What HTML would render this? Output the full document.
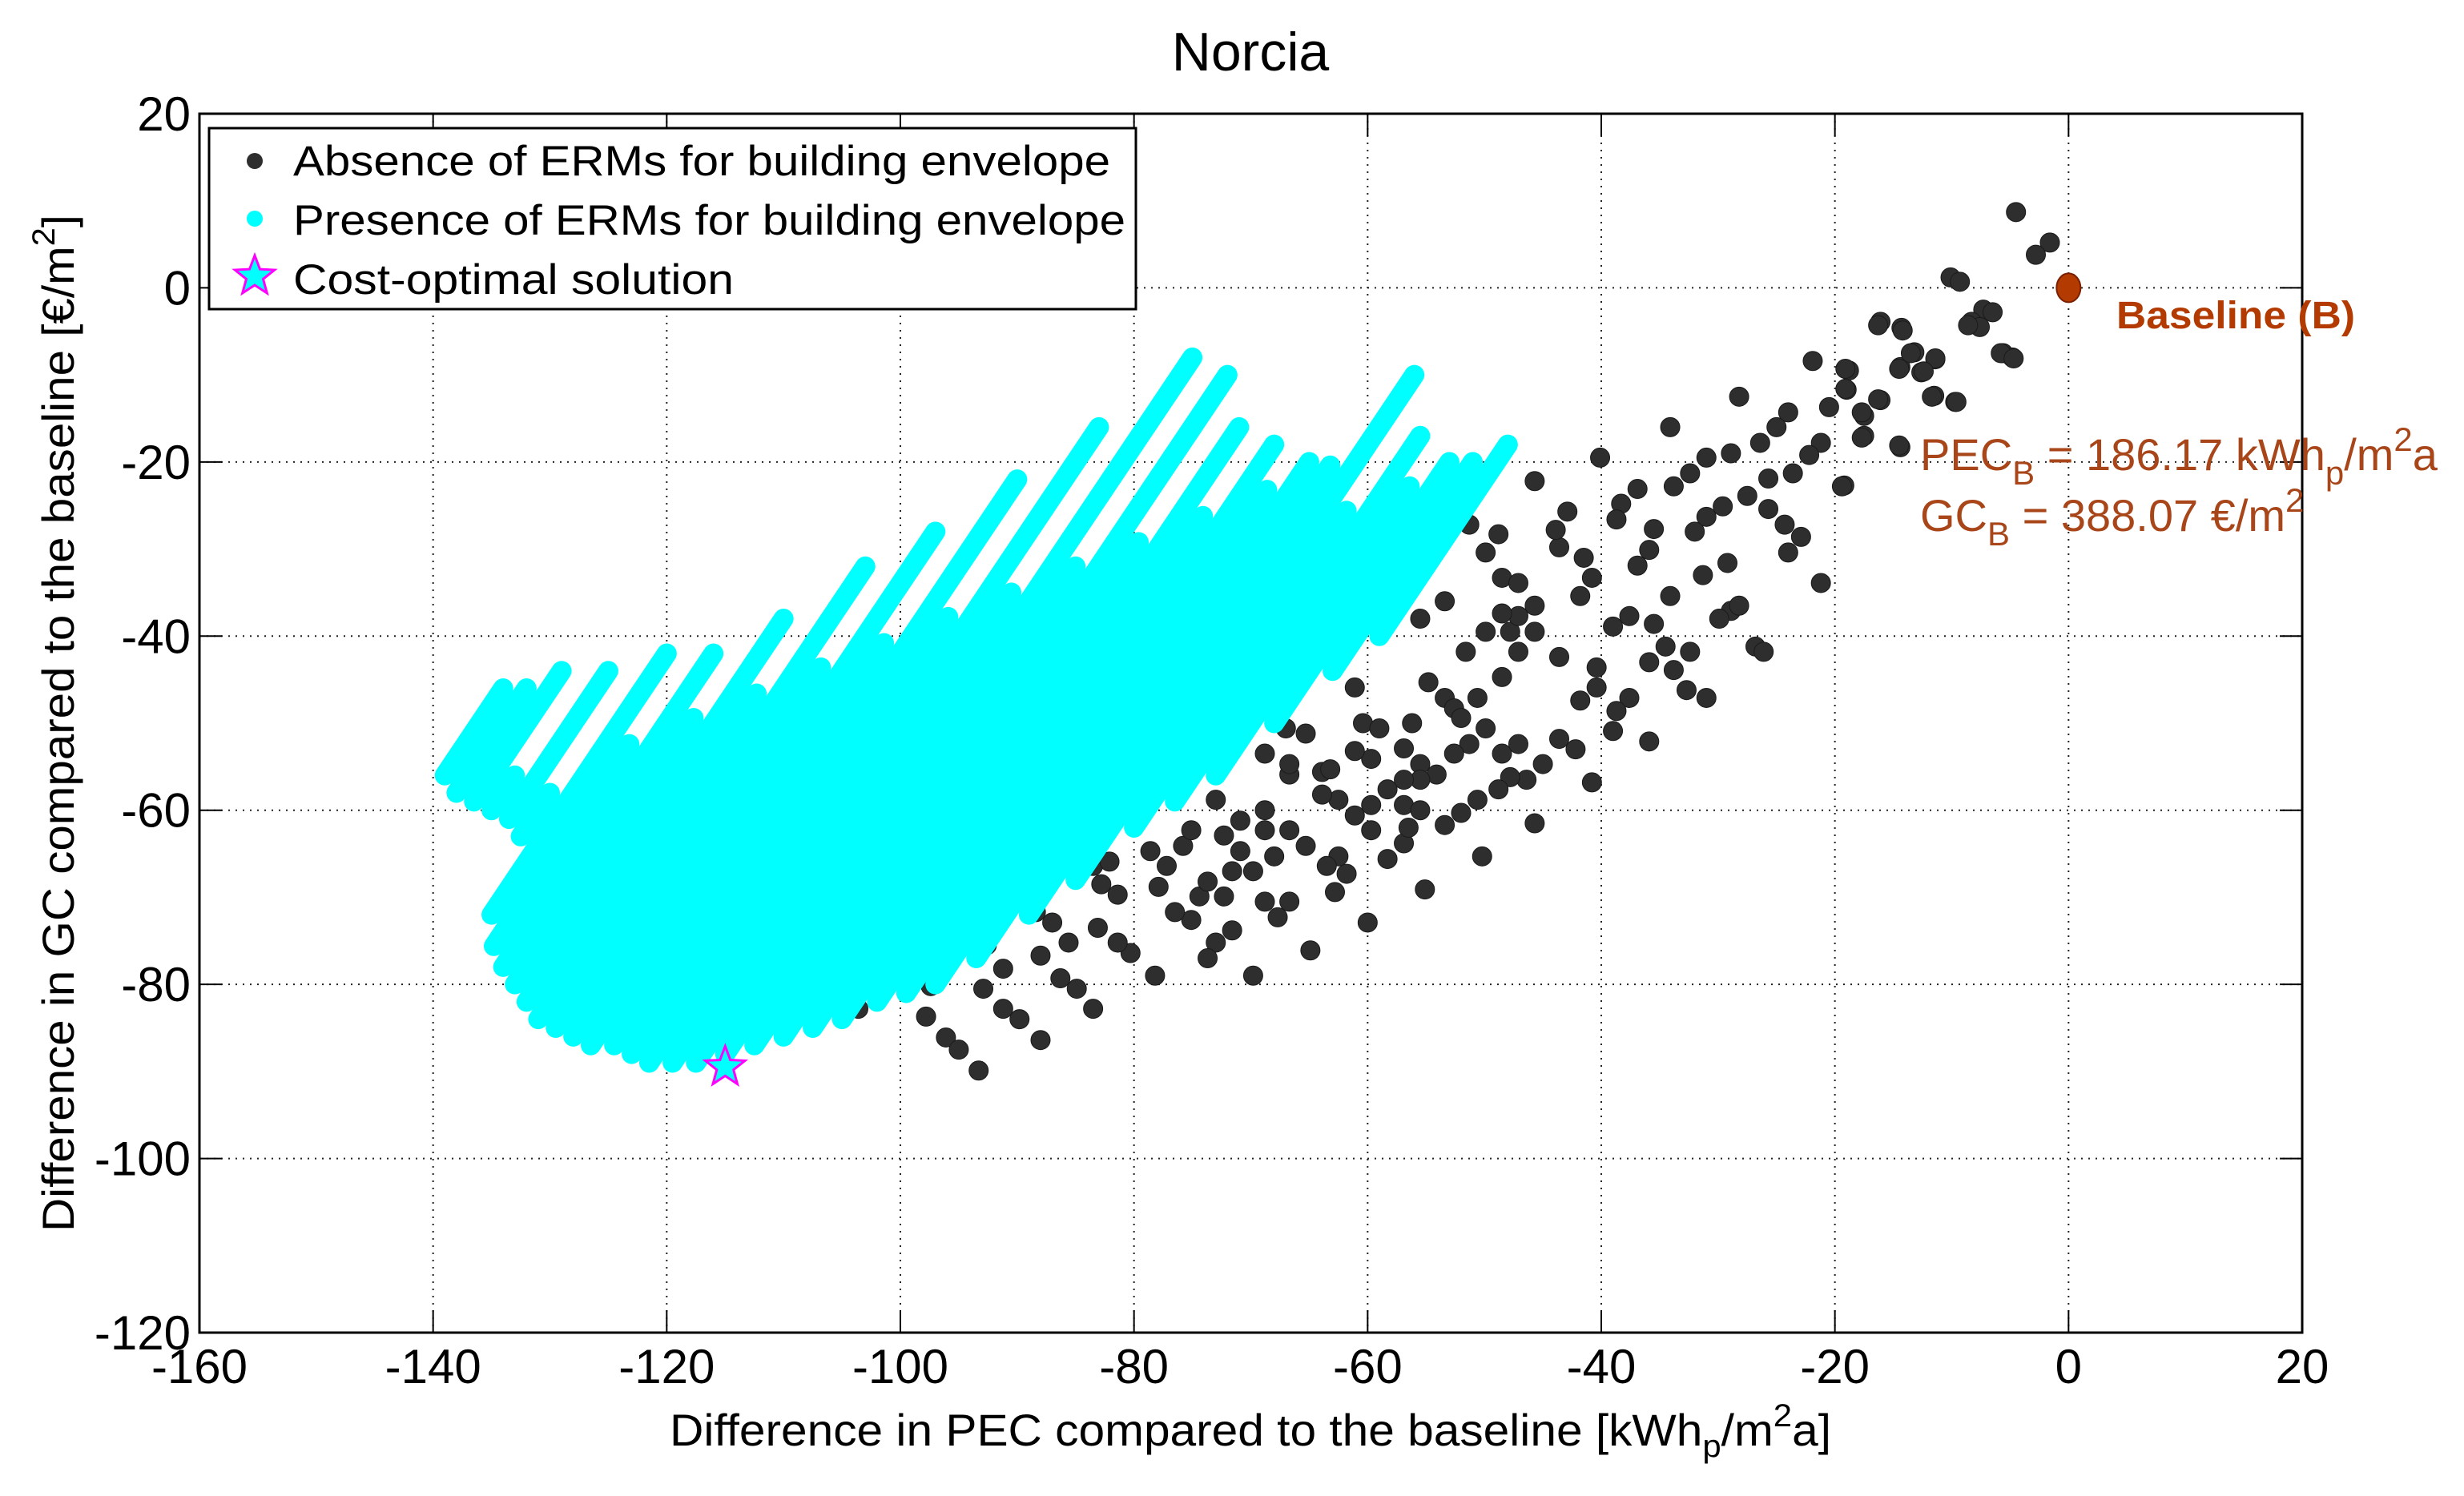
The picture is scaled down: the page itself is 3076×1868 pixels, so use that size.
<!DOCTYPE html>
<html>
<head>
<meta charset="utf-8">
<style>
  html,body{margin:0;padding:0;background:#fff;}
  svg{display:block;font-family:"Liberation Sans",Arial,sans-serif;}
</style>
</head>
<body>
<svg id="chart" width="3076" height="1868" viewBox="0 0 3076 1868" xmlns="http://www.w3.org/2000/svg">
  <rect x="0" y="0" width="3076" height="1868" fill="#fff"/>
  <g id="grid"></g>
  <g id="black-series"></g>
  <g id="cyan-series"></g>
  <g id="axes"></g>
  <text x="1561" y="88" font-size="68" text-anchor="middle">Norcia</text>
  <text x="1561" y="1805" font-size="56" text-anchor="middle" textLength="1450" lengthAdjust="spacingAndGlyphs">Difference in PEC compared to the baseline [kWh<tspan font-size="40" dy="14">p</tspan><tspan dy="-14">/m</tspan><tspan font-size="40" dy="-24">2</tspan><tspan dy="24">a]</tspan></text>
  <text transform="translate(92,903) rotate(-90)" font-size="56" text-anchor="middle" textLength="1270" lengthAdjust="spacingAndGlyphs">Difference in GC compared to the baseline [€/m<tspan font-size="40" dy="-24">2</tspan><tspan dy="24">]</tspan></text>

  <g>
    <text x="2642" y="410" font-size="48" font-weight="bold" fill="#b33a00" textLength="298" lengthAdjust="spacingAndGlyphs">Baseline (B)</text>
    <text x="2397" y="587" font-size="56" fill="#a8461a">PEC<tspan font-size="42" dy="18">B</tspan><tspan dy="-18"> = 186.17 kWh</tspan><tspan font-size="42" dy="18">p</tspan><tspan dy="-18">/m</tspan><tspan font-size="42" dy="-24">2</tspan><tspan dy="24">a</tspan></text>
    <text x="2397" y="663" font-size="56" fill="#a8461a">GC<tspan font-size="42" dy="18">B</tspan><tspan dy="-18"> = 388.07 €/m</tspan><tspan font-size="42" dy="-24">2</tspan></text>
  </g>

  <g>
    <rect x="261" y="160" width="1157" height="226" fill="#fff" stroke="#000" stroke-width="3"/>
    <circle cx="318" cy="201" r="10" fill="#2e2e2e"/>
    <text x="366" y="219" font-size="53" textLength="1020" lengthAdjust="spacingAndGlyphs">Absence of ERMs for building envelope</text>
    <circle cx="318" cy="273" r="10" fill="#00ffff"/>
    <text x="366" y="293" font-size="53" textLength="1039" lengthAdjust="spacingAndGlyphs">Presence of ERMs for building envelope</text>
    <polygon id="legend-star" fill="#00ffff" stroke="#ff00ff" stroke-width="3"/>
    <text x="366" y="367" font-size="53" textLength="550" lengthAdjust="spacingAndGlyphs">Cost-optimal solution</text>
  </g>
</svg>
<script>
// ---- data ----
const xTicks = [-160,-140,-120,-100,-80,-60,-40,-20,0,20];
const yTicks = [-120,-100,-80,-60,-40,-20,0,20];
const blackPEC = [-4.5,-1.6,-2.8,-10.1,-9.3,-7.3,-6.5,-8.3,-7.6,-16.1,-14.3,-13.2,-11.4,-14.4,-12.6,-5.6,-4.8,-18.8,-19.0,-16.1,-17.5,-17.5,-14.4,-11.5,-9.7,-19.2,
-21.9,-19.1,-19.1,-20.5,-17.7,-16.3,-14.5,-17.7,-19.4,-21.2,-22.2,-23.6,-24.0,-25.0,-26.4,-28.9,-31.0,-32.4,-33.8,-36.9,-38.3,-38.7,-35.5,-35.9,-36.9,-40.8,-41.8,-41.5,-43.6,-42.9,-43.9,-45.7,-40.1,-34.1,-28.2,-25.7,-27.5,-25.7,-24.3,-22.9,-24.0,-29.6,-31.0,-32.0,-21.2,-29.2,-31.3,-34.1,-35.5,-37.6,-39.0,-28.9,-29.9,-28.2,-26.8,-26.1,-34.5,-35.9,-32.4,-33.8,-32.7,-31.0,-40.4,-41.8,-40.4,-37.6,-38.7,-39.0,-35.9,-40.8,-43.6,-42.2,-45.0,-46.4,-47.8,-48.8,-50.6,-52.0,-53.4,-45.7,-50.2,-55.1,-58.3,-56.9,-56.5,-59.7,-61.1,-62.5,-63.9,-63.9,-66.7,-68.8,-68.0,-65.3,-62.5,-63.5,-61.8,-60.0,-62.8,-64.9,-66.7,-68.8,-67.7,-69.8,-71.6,-73.0,-73.7,-74.4,-73.7,-75.1,-76.5,-77.2,-75.8,-77.9,-78.2,-80.3,-81.4,-83.1,-82.8,-81.4,-83.5,-82.1,-85.6,-87.0,-88.4,-88.0,-91.2,-92.9,-92.6,-97.4,-97.8,-96.1,-95.0,-93.3,-91.2,-89.8,-88.0,-86.3,-84.9,-83.5,-78.6,-73.0,-70.9,-68.8,-72.3,-70.9,-75.1,-69.8,-71.6,-72.3,-66.7,-61.1,-60.4,-59.0,-56.9,-55.5,-56.2,-54.8,-53.4,-52.6,-52.0,-49.9,-51.3,-52.6,-54.1,-55.5,-59.7,-61.1,-63.2,-65.3,-67.0,-68.8,-66.7,-58.3,-59.7,-56.9,-55.5,-56.9,-48.5,-47.1,-50.6,-48.5,-47.1,-45.7,-43.6,-47.8,-47.1,-45.7,-48.5,-49.9,-51.6,-53.4,-55.5,-48.5,-47.1,-51.3,-49.9,-48.8,-55.8,-56.9,-51.3,
-16.3,-14.2,-8.6,-13.5,-11.4,-14.5,-12.4,-5.8,-4.7,-11.7,-9.6,-103.6,-104.5,-101.5];
const blackGC = [8.7,5.2,3.8,1.2,0.7,-2.5,-2.8,-3.9,-4.5,-3.9,-4.6,-7.4,-8.2,-9.1,-9.7,-7.5,-8.0,-9.5,-11.7,-12.9,-14.7,-17.0,-18.3,-12.4,-13.1,-22.7,
-8.4,-9.3,-11.6,-13.7,-14.3,-12.8,-18.1,-17.2,-22.8,-17.8,-19.2,-21.3,-14.3,-16.0,-17.8,-19.0,-19.5,-21.3,-22.8,-23.1,-24.8,-26.6,-27.7,-30.1,-31.9,-33.3,-35.4,-31.0,-29.8,-25.7,-27.8,-22.2,-19.5,-16.0,-12.5,-21.9,-23.9,-25.4,-27.2,-28.6,-30.4,-25.1,-26.3,-28.0,-33.9,-31.6,-33.0,-35.4,-38.6,-37.7,-38.9,-37.1,-38.0,-36.5,-41.2,-41.8,-41.2,-43.0,-41.8,-43.9,-46.2,-47.1,-43.6,-47.4,-45.9,-47.1,-48.6,-50.9,-52.1,-56.8,-51.8,-53.0,-54.7,-56.5,-56.2,-57.6,-58.8,-60.3,-61.7,-61.5,-65.3,-69.1,-65.6,-63.8,-62.0,-62.3,-60.6,-58.8,-58.2,-55.6,-55.9,-62.3,-65.3,-64.1,-65.3,-66.4,-67.3,-72.9,-69.4,-76.1,-70.5,-70.5,-72.3,-79.0,-73.8,-75.2,-77.0,-69.9,-68.2,-72.6,-71.7,-66.4,-64.1,-68.8,-79.0,-76.4,-75.2,-73.5,-68.5,-69.7,-66.4,-65.9,-75.2,-72.9,-71.7,-76.7,-78.2,-80.5,-75.5,-80.2,-83.7,-86.1,-87.5,-89.9,-82.8,-84.0,-86.4,-79.3,-80.5,-82.8,-64.7,-58.8,-61.2,-60.0,-62.9,-64.7,-62.3,-67.0,-67.0,-69.9,-62.3,-45.9,-50.0,-50.6,-52.9,-54.7,-50.0,-45.3,-47.1,-48.3,-49.4,-50.6,-52.4,-53.5,-55.9,-56.5,-54.1,-53.2,-55.3,-51.2,-50.6,-53.5,-54.7,-57.6,-59.4,-59.4,-60.0,-56.5,-53.5,-52.4,-47.1,-44.7,-41.8,-39.5,-42.4,-39.5,-37.7,-36.5,-37.4,-39.5,-41.8,-36.0,-38.0,-33.3,-33.9,-27.2,-30.4,-28.3,-32.4,-29.0,-24.5,
-4.3,-4.9,-4.3,-7.5,-8.1,-9.3,-9.6,-7.5,-8.1,-12.5,-13.1,-82.8,-80.5,-79.0];
// cyan point clusters (start and end of each dense diagonal run of points)
const cyanStartPEC = [-59,-63,-68,-73,-76.5,-80,-85,-89,-93.5,-97,-99.5,-102,-105,-107.5,-110,-112.5,-115,-117.5,-119.5,-121.5,-123,-124.5,-126.5,-128,-129.5,-131,-132,-133,-134,-134.8,-135,-132.5,-133.5,-135,-136.5,-138,-139];
const cyanStartGC  = [-40,-44,-50,-56,-59,-62,-68,-72,-77,-80,-81,-82,-84,-85,-86,-87,-88,-89,-89,-89,-88,-87,-87,-86,-85,-84,-82,-80,-78,-75.6,-72,-63,-61,-60,-59,-58,-56];
const cyanEndPEC   = [-48,-51,-53,-56.4,-55.5,-61.8,-56,-63.2,-65,-68.6,-68,-74.1,-71,-79.6,-72,-85,-75,-90.5,-83,-95.9,-90,-101.4,-97,-106.8,-103,-112.3,-110,-117.7,-116,-123.2,-120,-130,-125,-133,-129,-132,-134];
const cyanEndGC    = [-18,-20,-20,-22.8,-17,-25.6,-10,-20.4,-20,-23.2,-18,-26.2,-16,-29.2,-10,-32,-8,-35,-16,-37.8,-22,-40.8,-28,-43.6,-32,-46.6,-38,-49.4,-42,-52.4,-42,-58,-44,-56,-44,-46,-46];
const baselinePEC = [0];
const baselineGC = [0];
const optimalPEC = [-115];
const optimalGC = [-89.5];

// ---- scales ----
const L=249, R=2874, T=142, B=1664;
const X0=-160, X1=20, Y0=-120, Y1=20;
function sx(v){ return L + (v - X0) * (R - L) / (X1 - X0); }
function sy(v){ return T + (Y1 - v) * (B - T) / (Y1 - Y0); }
const NS="http://www.w3.org/2000/svg";
function mk(tag, attrs, parent){ const e=document.createElementNS(NS,tag); for(const k in attrs) e.setAttribute(k, attrs[k]); parent.appendChild(e); return e; }

// grid
const grid=document.getElementById('grid');
xTicks.forEach(t=>{
  if(t===X0||t===X1) return;
  const l=mk('line',{x1:sx(t),x2:sx(t),y1:T,y2:B,stroke:'#222','stroke-width':2,'stroke-dasharray':'2,7'},grid);
  
  
});
yTicks.forEach(t=>{
  if(t===Y0||t===Y1) return;
  const l=mk('line',{x1:L,x2:R,y1:sy(t),y2:sy(t),stroke:'#222','stroke-width':2,'stroke-dasharray':'2,7'},grid);
  
  
});

// black points
const bg=document.getElementById('black-series');
for(let i=0;i<blackPEC.length;i++){
  const c=mk('circle',{cx:sx(blackPEC[i]),cy:sy(blackGC[i]),r:12,fill:'#2e2e2e',stroke:'#1a1a1a','stroke-width':1},bg);
  
  
}
// cyan point runs
const cg=document.getElementById('cyan-series');
for(let i=0;i<cyanStartPEC.length;i++){
  const l=mk('line',{x1:sx(cyanStartPEC[i]),y1:sy(cyanStartGC[i]),x2:sx(cyanEndPEC[i]),y2:sy(cyanEndGC[i]),stroke:'#00ffff','stroke-width':25,'stroke-linecap':'round'},cg);
  
  
}
// baseline point
const bp=mk('ellipse',{cx:sx(baselinePEC[0]),cy:sy(baselineGC[0]),rx:15,ry:18,fill:'#b33a00',stroke:'#7a2000','stroke-width':2},document.getElementById('chart'));



// star
function starPts(cx,cy,ro,ri){ let p=[]; for(let k=0;k<10;k++){ const a=-Math.PI/2+k*Math.PI/5; const r=k%2?ri:ro; p.push((cx+r*Math.cos(a)).toFixed(1)+','+(cy+r*Math.sin(a)).toFixed(1)); } return p.join(' '); }
const st=mk('polygon',{points:starPts(sx(optimalPEC[0]),sy(optimalGC[0]),26,11),fill:'#00ffff',stroke:'#ff00ff','stroke-width':3},document.getElementById('chart'));


document.getElementById('legend-star').setAttribute('points', starPts(318,345,26,11));

// axes
const ax=document.getElementById('axes');
const box=mk('rect',{x:L,y:T,width:R-L,height:B-T,fill:'none',stroke:'#000','stroke-width':3},ax);


xTicks.forEach(t=>{
  const x=sx(t);
  const tk=mk('path',{d:`M${x},${B}V${B-28}M${x},${T}V${T+28}`,stroke:'#000','stroke-width':2},ax);
  
  
  const lb=mk('text',{x:x,y:1727,'font-size':60,'text-anchor':'middle'},ax);
  lb.textContent=String(t);
  
  
});
yTicks.forEach(t=>{
  const y=sy(t);
  const tk=mk('path',{d:`M${L},${y}H${L+28}M${R},${y}H${R-28}`,stroke:'#000','stroke-width':2},ax);
  
  
  const lb=mk('text',{x:238,y:y+21,'font-size':60,'text-anchor':'end'},ax);
  lb.textContent=String(t);
  
  
});
</script>
</body>
</html>
